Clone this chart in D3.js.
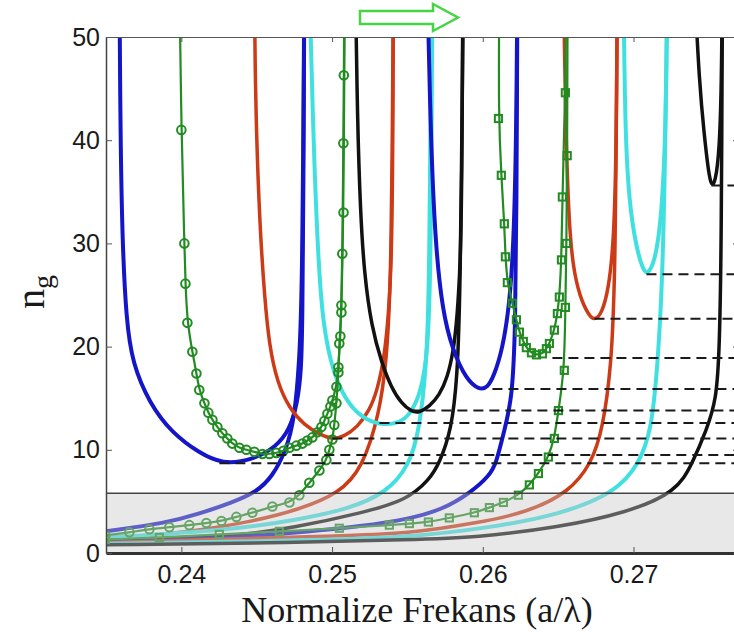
<!DOCTYPE html>
<html><head><meta charset="utf-8">
<script src="https://cdn.jsdelivr.net/npm/d3@7"></script>
<style>body{margin:0;background:#fff;} svg{display:block;}</style>
</head><body>
<svg id="chart" width="734" height="635"></svg>
<script>
// ---------- data ----------
const xTicks = [0.24, 0.25, 0.26, 0.27];
const yTicks = [0, 10, 20, 30, 40, 50];
const xDomain = [0.235, 0.277];
const yDomain = [0, 50];
const bandTop = 5.8;

const blue1U = [[0.23589,55],[0.23596,40],[0.23609,30],[0.23635,22.5],[0.23675,18.4],[0.23788,14.5],[0.23940,11.6],[0.24119,9.7],[0.24272,8.6],[0.24471,9.0],[0.24630,10.3],[0.24717,11.9],[0.24770,14.5],[0.24796,17.7],[0.24803,22.6],[0.24810,35],[0.24816,55]];
const blue1Rise = [[0.23496,2.1],[0.23900,2.9],[0.24119,3.8],[0.24338,4.9],[0.24498,5.9],[0.24604,7.4],[0.24697,10.0],[0.24750,13.0],[0.24783,18.4],[0.24803,26.0],[0.24816,55]];
const green1U = [[0.23987,55],[0.24000,41.0],[0.24020,30.0],[0.24027,26.1],[0.24040,22.3],[0.24073,19.5],[0.24100,17.4],[0.24119,15.8],[0.24153,14.5],[0.24179,13.6],[0.24206,12.9],[0.24239,12.2],[0.24272,11.6],[0.24305,11.1],[0.24338,10.6],[0.24385,10.2],[0.24431,10.0],[0.24484,9.8],[0.24538,9.6],[0.24584,9.6],[0.24630,9.7],[0.24677,9.9],[0.24717,10.2],[0.24763,10.4],[0.24803,10.6],[0.24836,10.9],[0.24869,11.2],[0.24902,11.7],[0.24929,12.2],[0.24949,12.8],[0.24969,13.5],[0.24989,14.2],[0.25002,14.8],[0.25029,16.1],[0.25042,18.0],[0.25055,21.0],[0.25062,24.0],[0.25068,29.0],[0.25075,39.7],[0.25078,46.3],[0.25082,55]];
const green1Rise = [[0.23496,1.7],[0.23655,2.0],[0.23788,2.3],[0.23920,2.5],[0.24053,2.7],[0.24166,2.9],[0.24266,3.1],[0.24365,3.5],[0.24471,3.9],[0.24604,4.5],[0.24717,4.9],[0.24783,5.6],[0.24849,6.8],[0.24916,8.0],[0.24962,9.0],[0.24982,10.0],[0.25002,11.0],[0.25015,12.4],[0.25029,14.5],[0.25042,17.5],[0.25048,20.3],[0.25062,23.3],[0.25076,33.0],[0.25085,55]];
const red1U = [[0.24484,55],[0.24491,45],[0.24504,38],[0.24524,31],[0.24551,25],[0.24584,20],[0.24637,16.5],[0.24717,14.0],[0.24816,12.4],[0.24916,11.5],[0.25002,11.0],[0.25082,11.3],[0.25168,12.2],[0.25248,13.8],[0.25301,15.8],[0.25347,19.0],[0.25374,23.0],[0.25394,28],[0.25403,38],[0.25407,55]];
const red1Rise = [[0.23496,1.4],[0.23675,1.5],[0.24119,2.2],[0.24451,3.0],[0.24783,4.2],[0.25048,5.8],[0.25201,8.2],[0.25314,13.5],[0.25360,18.4],[0.25394,26.4],[0.25407,55]];
const cyan1U = [[0.24849,55],[0.24880,38],[0.24910,28],[0.24940,22],[0.25010,17.2],[0.25110,14.3],[0.25230,12.8],[0.25347,12.4],[0.25440,12.6],[0.25513,13.3],[0.25590,15.5],[0.25635,19.5],[0.25655,27],[0.25666,55]];
const cyan1Rise = [[0.23496,1.5],[0.24319,2.2],[0.24763,3.2],[0.25095,4.2],[0.25360,5.8],[0.25513,8.5],[0.25579,11.9],[0.25626,18.0],[0.25646,26.0],[0.25659,55]];
const black1U = [[0.25155,55],[0.25168,42],[0.25188,33],[0.25214,27],[0.25261,22],[0.25327,18.5],[0.25394,16.0],[0.25460,14.5],[0.25526,13.7],[0.25579,13.6],[0.25646,14.2],[0.25712,15.3],[0.25765,17.0],[0.25805,19.5],[0.25831,23.0],[0.25851,28],[0.25861,35],[0.25868,55]];
const black1Rise = [[0.23496,1.2],[0.24319,1.5],[0.24763,2.5],[0.25201,3.9],[0.25493,5.1],[0.25646,7.1],[0.25712,8.7],[0.25792,11.9],[0.25831,17.0],[0.25851,25.0],[0.25871,55]];
const blue2U = [[0.25632,55],[0.25655,40],[0.25685,30],[0.25732,23.5],[0.25798,19.7],[0.25891,16.8],[0.25977,15.8],[0.26031,16.0],[0.26075,17.2],[0.26130,19.7],[0.26177,24.0],[0.26205,30],[0.26222,40],[0.26230,55]];
const blue2Rise = [[0.23496,1.0],[0.24319,1.4],[0.24783,2.0],[0.25201,2.6],[0.25513,3.3],[0.25732,4.2],[0.25924,5.9],[0.26044,7.5],[0.26090,8.7],[0.26143,11.9],[0.26196,15.0],[0.26216,22.0],[0.26223,32.0],[0.26230,55]];
const green2U = [[0.26110,55],[0.26104,42.1],[0.26123,36.6],[0.26143,31.9],[0.26150,28.7],[0.26163,26.2],[0.26196,24.2],[0.26223,22.6],[0.26243,21.4],[0.26269,20.5],[0.26289,19.9],[0.26323,19.4],[0.26356,19.2],[0.26396,19.3],[0.26422,19.8],[0.26442,20.3],[0.26475,21.6],[0.26495,23.2],[0.26508,24.8],[0.26522,28.4],[0.26528,34.5],[0.26548,44.6],[0.26555,55]];
const green2Rise = [[0.23496,1.3],[0.23854,1.5],[0.24252,1.8],[0.24650,2.1],[0.25048,2.4],[0.25380,2.7],[0.25513,2.85],[0.25639,3.0],[0.25778,3.4],[0.25944,3.9],[0.26044,4.4],[0.26137,4.9],[0.26236,5.6],[0.26309,6.6],[0.26369,7.7],[0.26435,9.3],[0.26475,11.1],[0.26502,13.8],[0.26541,17.7],[0.26548,23.8],[0.26555,30.0],[0.26560,38.5],[0.26563,55]];
const red2U = [[0.26535,55],[0.26552,40],[0.26572,32],[0.26600,27.5],[0.26645,24.8],[0.26700,23.1],[0.26741,22.5],[0.26790,23.2],[0.26835,25.6],[0.26868,30],[0.26885,38],[0.26893,55]];
const red2Rise = [[0.23496,1.0],[0.24451,1.4],[0.25115,1.7],[0.25513,1.9],[0.25958,2.9],[0.26289,3.9],[0.26575,5.9],[0.26721,8.7],[0.26794,11.9],[0.26853,18.0],[0.26880,27.0],[0.26893,55]];
const cyan2U = [[0.26933,55],[0.26945,40],[0.26975,33.5],[0.27019,29.6],[0.27059,27.6],[0.27092,26.9],[0.27139,28.2],[0.27172,31.0],[0.27195,35],[0.27215,42],[0.27225,55]];
const cyan2Rise = [[0.23496,0.9],[0.24783,1.2],[0.25513,1.5],[0.26064,2.5],[0.26508,3.7],[0.26887,5.9],[0.27039,8.7],[0.27119,11.9],[0.27159,18.0],[0.27192,26.1],[0.27212,40],[0.27225,55]];
const black2U = [[0.27404,55],[0.27437,45.5],[0.27470,40.4],[0.27497,37.0],[0.27517,35.5],[0.27543,35.9],[0.27570,39],[0.27583,45],[0.27590,55]];
const black2Rise = [[0.23496,0.8],[0.24783,1.0],[0.25513,1.3],[0.25958,1.5],[0.26508,2.5],[0.26953,3.9],[0.27285,5.9],[0.27391,8.7],[0.27484,11.9],[0.27550,14.8],[0.27570,19.7],[0.27583,29.3],[0.27590,55]];

const dashLevels = [8.7, 9.5, 11.1, 12.6, 13.8, 15.9, 18.9, 22.7, 27.0, 35.6];
const dashStarts = [0.24252, 0.24630, 0.25002, 0.25314, 0.25513, 0.26064, 0.26462, 0.26741, 0.27086, 0.27517];

// ---------- styles ----------
const C = {blue:"#1414c8", red:"#cc3a16", cyan:"#40e0e0", black:"#111111", green:"#228b22"};
const curves = [
  {d: blue1Rise, c: C.blue, w: 4}, {d: red1Rise, c: C.red, w: 3.5}, {d: cyan1Rise, c: C.cyan, w: 4},
  {d: black1Rise, c: C.black, w: 3.5}, {d: blue2Rise, c: C.blue, w: 4}, {d: red2Rise, c: C.red, w: 3.5},
  {d: cyan2Rise, c: C.cyan, w: 4}, {d: black2Rise, c: C.black, w: 3.5},
  {d: blue1U, c: C.blue, w: 4}, {d: red1U, c: C.red, w: 3.5}, {d: cyan1U, c: C.cyan, w: 4},
  {d: black1U, c: C.black, w: 3.5}, {d: blue2U, c: C.blue, w: 4}, {d: red2U, c: C.red, w: 3.5},
  {d: cyan2U, c: C.cyan, w: 4}, {d: black2U, c: C.black, w: 3.5},
  {d: green1Rise, c: C.green, w: 2.2, m: "circle"}, {d: green1U, c: C.green, w: 2.2, m: "circle"},
  {d: green2Rise, c: C.green, w: 2.2, m: "square"}, {d: green2U, c: C.green, w: 2.2, m: "square"}
];

// ---------- layout ----------
const L = 106, R = 739, T = 37, B = 553;
const svg = d3.select("#chart");
const x = d3.scaleLinear().domain(xDomain).range([L, R]);
const y = d3.scaleLinear().domain(yDomain).range([B, T]);

svg.append("defs").append("clipPath").attr("id","clip")
  .append("rect").attr("x", L).attr("y", T).attr("width", R - L).attr("height", B - T);

const plot = svg.append("g").attr("clip-path","url(#clip)");
const line = d3.line().x(d => x(d[0])).y(d => y(d[1])).curve(d3.curveBasis);

curves.forEach(s => {
  plot.append("path").datum(s.d).attr("d", line)
    .attr("fill","none").attr("stroke", s.c).attr("stroke-width", s.w)
    .attr("stroke-linejoin","round").attr("stroke-linecap","round");
  if (s.m === "circle") {
    plot.selectAll(null).data(s.d.filter(p => p[1] <= 50)).enter().append("circle")
      .attr("cx", p => x(p[0])).attr("cy", p => y(p[1])).attr("r", 4.3)
      .attr("fill","none").attr("stroke", s.c).attr("stroke-width", 2);
  } else if (s.m === "square") {
    plot.selectAll(null).data(s.d.filter(p => p[1] <= 50)).enter().append("rect")
      .attr("x", p => x(p[0]) - 3.6).attr("y", p => y(p[1]) - 3.6).attr("width", 7.2).attr("height", 7.2)
      .attr("fill","none").attr("stroke", s.c).attr("stroke-width", 2);
  }
});

// dashed minimum lines
plot.selectAll(null).data(dashLevels).enter().append("line")
  .attr("x1", (v,i) => x(dashStarts[i])).attr("x2", R)
  .attr("y1", v => y(v)).attr("y2", v => y(v))
  .attr("stroke","#1a1a1a").attr("stroke-width", 2).attr("stroke-dasharray","10,6");

// grey band (semi-transparent overlay)
plot.append("rect").attr("x", L).attr("width", R - L)
  .attr("y", y(bandTop)).attr("height", y(0) - y(bandTop))
  .attr("fill","#c8c8c8").attr("fill-opacity", 0.42);
plot.append("line").attr("x1", L).attr("x2", R).attr("y1", y(bandTop)).attr("y2", y(bandTop))
  .attr("stroke","#444").attr("stroke-width", 1.5);

// ---------- axes ----------
const fontSans = "'Liberation Sans', Arial, Helvetica, sans-serif";
const gx = svg.append("g").attr("transform", `translate(0,${B})`)
  .call(d3.axisBottom(x).tickValues(xTicks).tickFormat(d3.format(".2f")).tickSize(-6).tickSizeOuter(0).tickPadding(12));
const gy = svg.append("g").attr("transform", `translate(${L},0)`)
  .call(d3.axisLeft(y).tickValues(yTicks).tickSize(-6).tickSizeOuter(0).tickPadding(6));
const gt = svg.append("g").attr("transform", `translate(0,${T})`)
  .call(d3.axisTop(x).tickValues(xTicks).tickFormat("").tickSize(-5).tickSizeOuter(0));
const gr = svg.append("g").attr("transform", `translate(${R},0)`)
  .call(d3.axisRight(y).tickValues(yTicks).tickFormat("").tickSize(-6).tickSizeOuter(0));

[gx, gy].forEach(g => g.selectAll("text").attr("font-family", fontSans).attr("font-size", 25).attr("fill", "#1a1a1a"));
gx.select(".domain").attr("stroke","#333").attr("stroke-width", 3);
gy.select(".domain").attr("stroke","#444").attr("stroke-width", 1.5);
gt.select(".domain").attr("stroke","#555").attr("stroke-width", 1.2);
gr.select(".domain").attr("stroke","#555").attr("stroke-width", 1.2);
[gx, gy, gt, gr].forEach(g => g.selectAll(".tick line").attr("stroke", "#555").attr("stroke-width", 1));

// axis titles
const fontSerif = "'Liberation Serif', 'Times New Roman', serif";
svg.append("text").attr("x", 417).attr("y", 622).attr("text-anchor","middle")
  .attr("font-family", fontSerif).attr("font-size", 36).attr("fill","#1a1a1a")
  .text("Normalize Frekans (a/λ)");
const yl = svg.append("text").attr("transform","translate(44,292) rotate(-90)").attr("text-anchor","middle")
  .attr("font-family", fontSerif).attr("font-size", 40).attr("fill","#1a1a1a");
yl.append("tspan").text("n");
yl.append("tspan").attr("font-size", 28).attr("dy", 8).text("g");

// green arrow at top
svg.append("path")
  .attr("d", "M360,11 L433,11 L433,4 L458,17.5 L433,31 L433,24 L360,24 Z")
  .attr("fill","#fff").attr("stroke","#44d444").attr("stroke-width", 2.5).attr("stroke-linejoin","miter");
</script>
</body></html>
